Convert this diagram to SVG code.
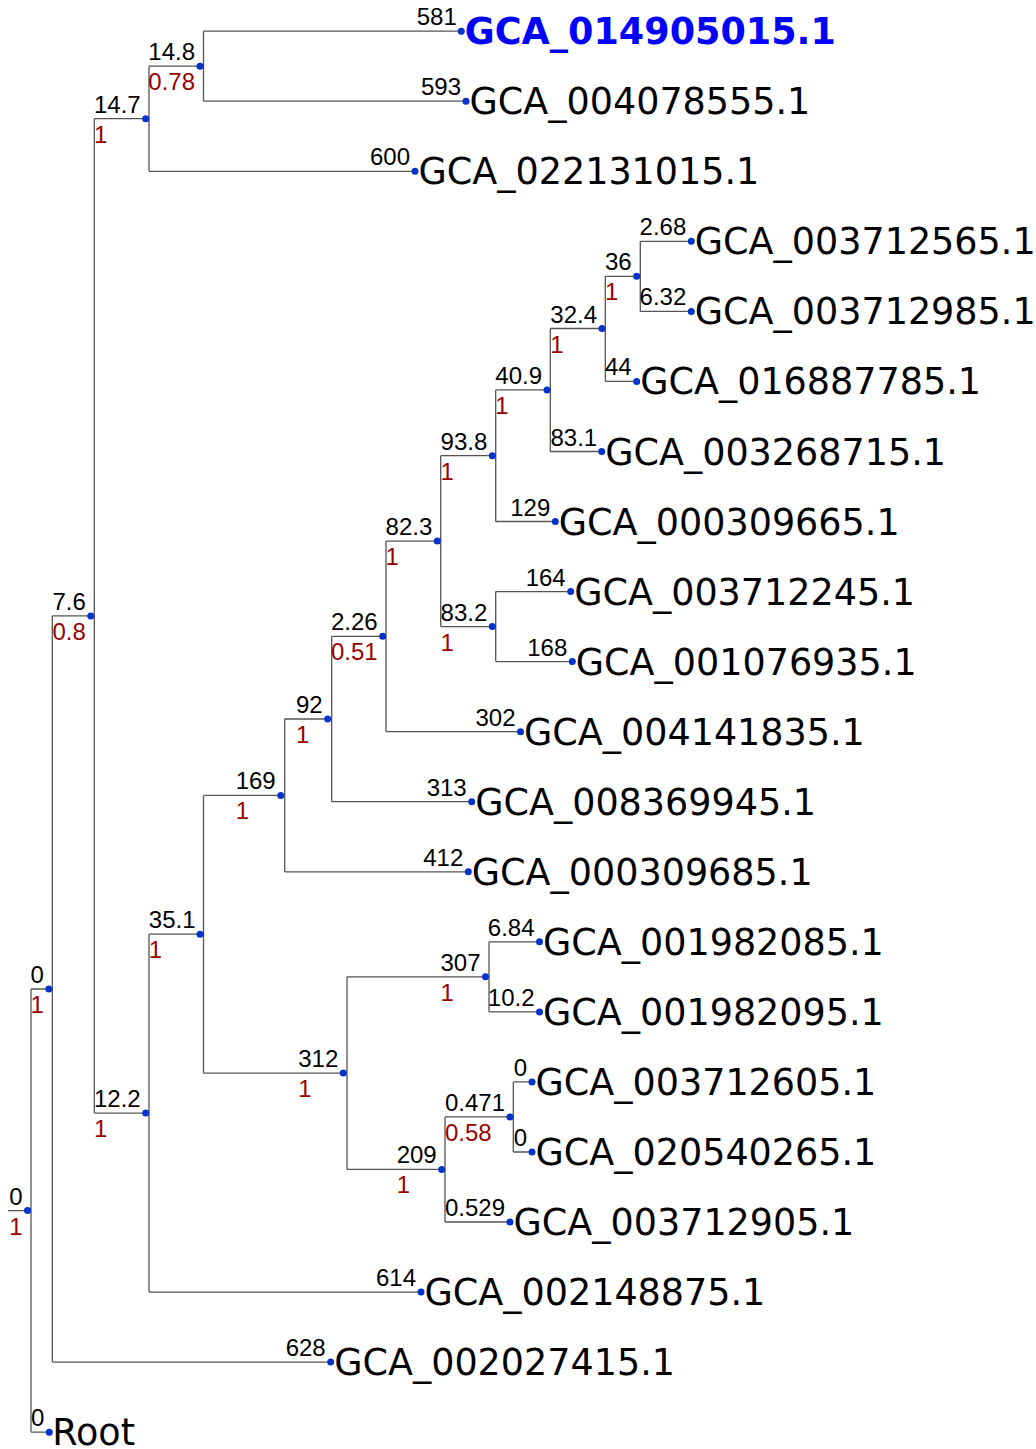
<svg xmlns="http://www.w3.org/2000/svg" width="1036" height="1449" viewBox="0 0 1036 1449">
<style>
.e{fill:none;stroke:#555;stroke-width:1.3}
.d{fill:#0033cc}
.t{font-family:"Liberation Sans",Arial,sans-serif;font-size:24px;fill:#000;text-anchor:end}
.s{font-family:"Liberation Sans",Arial,sans-serif;font-size:24px;fill:#990000}
.l{font-family:"DejaVu Sans",sans-serif;font-size:36.5px;fill:#000}
.b{font-family:"DejaVu Sans",sans-serif;font-size:36.5px;fill:#0000ff;font-weight:bold}
</style>
<rect width="1036" height="1449" fill="#fff"/>
<g id="connectors">
<path class="e" d="M8,1210.6H31M31,989V1432.2M31,989H52.3M31,1432.2H49.3"/>
<path class="e" d="M52.3,615.9V1362.1M52.3,615.9H94.3M52.3,1362.1H330.7"/>
<path class="e" d="M94.3,118.7V1113.1M94.3,118.7H149M94.3,1113.1H149"/>
<path class="e" d="M149,66.2V171.3M149,66.2H203.5M149,171.3H415"/>
<path class="e" d="M203.5,31.2V101.2M203.5,31.2H461.3M203.5,101.2H466"/>
<path class="e" d="M149,934.2V1292.1M149,934.2H203.5M149,1292.1H421"/>
<path class="e" d="M203.5,795.4V1073.1M203.5,795.4H284.7M203.5,1073.1H347"/>
<path class="e" d="M284.7,719V871.8M284.7,719H331.7M284.7,871.8H468.3"/>
<path class="e" d="M331.7,636.3V801.7M331.7,636.3H386M331.7,801.7H471.7"/>
<path class="e" d="M386,541.1V731.7M386,541.1H440.7M386,731.7H520.5"/>
<path class="e" d="M440.7,455.7V626.6M440.7,455.7H495.7M440.7,626.6H495.7"/>
<path class="e" d="M495.7,389.9V521.5M495.7,389.9H550.3M495.7,521.5H555.3"/>
<path class="e" d="M495.7,591.6V661.6M495.7,591.6H570.7M495.7,661.6H572.3"/>
<path class="e" d="M550.3,328.5V451.5M550.3,328.5H605.3M550.3,451.5H601.7"/>
<path class="e" d="M605.3,276.3V381.4M605.3,276.3H640.3M605.3,381.4H636.7"/>
<path class="e" d="M640.3,241.3V311.4M640.3,241.3H691.3M640.3,311.4H691.3"/>
<path class="e" d="M347,976.8V1169.4M347,976.8H489M347,1169.4H445"/>
<path class="e" d="M489,941.8V1011.9M489,941.8H539.5M489,1011.9H539.5"/>
<path class="e" d="M445,1116.9V1222M445,1116.9H513.3M445,1222H510"/>
<path class="e" d="M513.3,1081.9V1152M513.3,1081.9H532M513.3,1152H532"/>
</g>
<g id="n_root"><circle class="d" cx="27.5" cy="1210.6" r="3.5"/><text class="t" x="22.5" y="1204.6">0</text><text class="s" x="9.2" y="1234.6">1</text></g>
<g id="n_A"><circle class="d" cx="48.8" cy="989" r="3.5"/><text class="t" x="43.8" y="983">0</text><text class="s" x="30.5" y="1013">1</text></g>
<g id="n_B"><circle class="d" cx="90.8" cy="615.9" r="3.5"/><text class="t" x="85.8" y="609.9">7.6</text><text class="s" x="52.4" y="639.9">0.8</text></g>
<g id="n_C"><circle class="d" cx="145.7" cy="118.7" r="3.5"/><text class="t" x="140.7" y="112.7">14.7</text><text class="s" x="94" y="142.7">1</text></g>
<g id="n_D"><circle class="d" cx="145.7" cy="1113.1" r="3.5"/><text class="t" x="140.7" y="1107.1">12.2</text><text class="s" x="94" y="1137.1">1</text></g>
<g id="n_E"><circle class="d" cx="200" cy="66.2" r="3.5"/><text class="t" x="195" y="60.2">14.8</text><text class="s" x="148.3" y="90.2">0.78</text></g>
<g id="n_F"><circle class="d" cx="200" cy="934.2" r="3.5"/><text class="t" x="195.5" y="928.2">35.1</text><text class="s" x="148.8" y="958.2">1</text></g>
<g id="n_G"><circle class="d" cx="280.7" cy="795.4" r="3.5"/><text class="t" x="275.7" y="789.4">169</text><text class="s" x="235.7" y="819.4">1</text></g>
<g id="n_H"><circle class="d" cx="343.3" cy="1073.1" r="3.5"/><text class="t" x="338.3" y="1067.1">312</text><text class="s" x="298.3" y="1097.1">1</text></g>
<g id="n_I"><circle class="d" cx="327.7" cy="719" r="3.5"/><text class="t" x="322.7" y="713">92</text><text class="s" x="296" y="743">1</text></g>
<g id="n_J"><circle class="d" cx="382.7" cy="636.3" r="3.5"/><text class="t" x="377.7" y="630.3">2.26</text><text class="s" x="331" y="660.3">0.51</text></g>
<g id="n_K"><circle class="d" cx="437.3" cy="541.1" r="3.5"/><text class="t" x="432.3" y="535.1">82.3</text><text class="s" x="385.6" y="565.1">1</text></g>
<g id="n_L"><circle class="d" cx="492.3" cy="455.7" r="3.5"/><text class="t" x="487.3" y="449.7">93.8</text><text class="s" x="440.6" y="479.7">1</text></g>
<g id="n_M"><circle class="d" cx="492.3" cy="626.6" r="3.5"/><text class="t" x="487.3" y="620.6">83.2</text><text class="s" x="440.6" y="650.6">1</text></g>
<g id="n_N"><circle class="d" cx="547" cy="389.9" r="3.5"/><text class="t" x="542" y="383.9">40.9</text><text class="s" x="495.3" y="413.9">1</text></g>
<g id="n_O"><circle class="d" cx="602" cy="328.5" r="3.5"/><text class="t" x="597" y="322.5">32.4</text><text class="s" x="550.3" y="352.5">1</text></g>
<g id="n_P"><circle class="d" cx="636.7" cy="276.3" r="3.5"/><text class="t" x="631.7" y="270.3">36</text><text class="s" x="605" y="300.3">1</text></g>
<g id="n_Q"><circle class="d" cx="485.5" cy="976.8" r="3.5"/><text class="t" x="480.5" y="970.8">307</text><text class="s" x="440.5" y="1000.8">1</text></g>
<g id="n_R"><circle class="d" cx="441.7" cy="1169.4" r="3.5"/><text class="t" x="436.7" y="1163.4">209</text><text class="s" x="396.7" y="1193.4">1</text></g>
<g id="n_S"><circle class="d" cx="510" cy="1116.9" r="3.5"/><text class="t" x="505" y="1110.9">0.471</text><text class="s" x="445" y="1140.9">0.58</text></g>
<g id="leaf_GCA_014905015.1"><circle class="d" cx="461.3" cy="31.2" r="3.5"/><text class="t" x="456.8" y="25.2">581</text><text class="b" x="464.8" y="44.2">GCA_014905015.1</text></g>
<g id="leaf_GCA_004078555.1"><circle class="d" cx="466" cy="101.2" r="3.5"/><text class="t" x="461" y="95.2">593</text><text class="l" x="469.5" y="114.2">GCA_004078555.1</text></g>
<g id="leaf_GCA_022131015.1"><circle class="d" cx="415" cy="171.3" r="3.5"/><text class="t" x="410" y="165.3">600</text><text class="l" x="418.5" y="184.3">GCA_022131015.1</text></g>
<g id="leaf_GCA_003712565.1"><circle class="d" cx="691.3" cy="241.3" r="3.5"/><text class="t" x="686.3" y="235.3">2.68</text><text class="l" x="694.8" y="254.3">GCA_003712565.1</text></g>
<g id="leaf_GCA_003712985.1"><circle class="d" cx="691.3" cy="311.4" r="3.5"/><text class="t" x="686.3" y="305.4">6.32</text><text class="l" x="694.8" y="324.4">GCA_003712985.1</text></g>
<g id="leaf_GCA_016887785.1"><circle class="d" cx="636.7" cy="381.4" r="3.5"/><text class="t" x="631.7" y="375.4">44</text><text class="l" x="640.2" y="394.4">GCA_016887785.1</text></g>
<g id="leaf_GCA_003268715.1"><circle class="d" cx="601.7" cy="451.5" r="3.5"/><text class="t" x="597.2" y="445.5">83.1</text><text class="l" x="605.2" y="464.5">GCA_003268715.1</text></g>
<g id="leaf_GCA_000309665.1"><circle class="d" cx="555.3" cy="521.5" r="3.5"/><text class="t" x="550.3" y="515.5">129</text><text class="l" x="558.8" y="534.5">GCA_000309665.1</text></g>
<g id="leaf_GCA_003712245.1"><circle class="d" cx="570.7" cy="591.6" r="3.5"/><text class="t" x="565.7" y="585.6">164</text><text class="l" x="574.2" y="604.6">GCA_003712245.1</text></g>
<g id="leaf_GCA_001076935.1"><circle class="d" cx="572.3" cy="661.6" r="3.5"/><text class="t" x="567.3" y="655.6">168</text><text class="l" x="575.8" y="674.6">GCA_001076935.1</text></g>
<g id="leaf_GCA_004141835.1"><circle class="d" cx="520.5" cy="731.7" r="3.5"/><text class="t" x="515.5" y="725.7">302</text><text class="l" x="524" y="744.7">GCA_004141835.1</text></g>
<g id="leaf_GCA_008369945.1"><circle class="d" cx="471.7" cy="801.7" r="3.5"/><text class="t" x="466.7" y="795.7">313</text><text class="l" x="475.2" y="814.7">GCA_008369945.1</text></g>
<g id="leaf_GCA_000309685.1"><circle class="d" cx="468.3" cy="871.8" r="3.5"/><text class="t" x="463.3" y="865.8">412</text><text class="l" x="471.8" y="884.8">GCA_000309685.1</text></g>
<g id="leaf_GCA_001982085.1"><circle class="d" cx="539.5" cy="941.8" r="3.5"/><text class="t" x="534.5" y="935.8">6.84</text><text class="l" x="543" y="954.8">GCA_001982085.1</text></g>
<g id="leaf_GCA_001982095.1"><circle class="d" cx="539.5" cy="1011.9" r="3.5"/><text class="t" x="534.5" y="1005.9">10.2</text><text class="l" x="543" y="1024.9">GCA_001982095.1</text></g>
<g id="leaf_GCA_003712605.1"><circle class="d" cx="532" cy="1081.9" r="3.5"/><text class="t" x="527" y="1075.9">0</text><text class="l" x="535.5" y="1094.9">GCA_003712605.1</text></g>
<g id="leaf_GCA_020540265.1"><circle class="d" cx="532" cy="1152" r="3.5"/><text class="t" x="527" y="1146">0</text><text class="l" x="535.5" y="1165">GCA_020540265.1</text></g>
<g id="leaf_GCA_003712905.1"><circle class="d" cx="510" cy="1222" r="3.5"/><text class="t" x="505" y="1216">0.529</text><text class="l" x="513.5" y="1235">GCA_003712905.1</text></g>
<g id="leaf_GCA_002148875.1"><circle class="d" cx="421" cy="1292.1" r="3.5"/><text class="t" x="416" y="1286.1">614</text><text class="l" x="424.5" y="1305.1">GCA_002148875.1</text></g>
<g id="leaf_GCA_002027415.1"><circle class="d" cx="330.7" cy="1362.1" r="3.5"/><text class="t" x="325.7" y="1356.1">628</text><text class="l" x="334.2" y="1375.1">GCA_002027415.1</text></g>
<g id="leaf_Root"><circle class="d" cx="49.3" cy="1432.2" r="3.5"/><text class="t" x="44.3" y="1426.2">0</text><text class="l" x="52.3" y="1445.2">Root</text></g>
</svg>
